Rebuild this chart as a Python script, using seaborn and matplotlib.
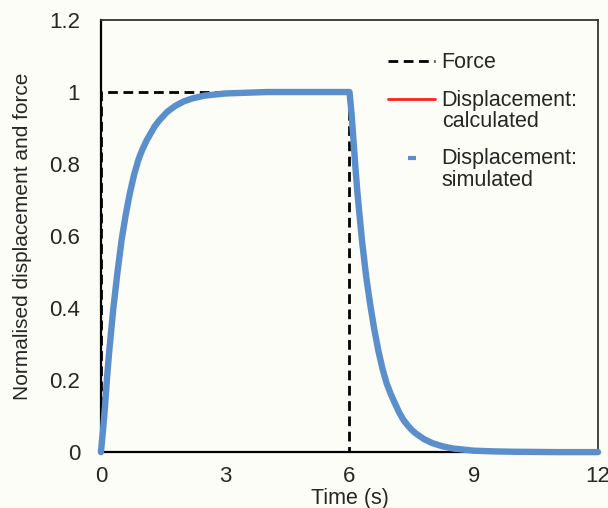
import matplotlib
matplotlib.use("Agg")
import matplotlib.pyplot as plt
from matplotlib.lines import Line2D
from matplotlib.legend_handler import HandlerLine2D
from matplotlib.ticker import MultipleLocator, FuncFormatter
import seaborn as sns
import pandas as pd

# ---- data ----
force_t = [0, 0, 6, 6, 12]
force_v = [0, 1, 1, 0, 0]

calc_t = [0, 0.05, 0.1, 0.15, 0.2, 0.3, 0.4, 0.5, 0.6, 0.7, 0.8, 0.9, 1.0, 1.2, 1.4, 1.6, 1.8, 2.0, 2.5, 3.0, 4.0, 6.0,
          6.05, 6.1, 6.15, 6.2, 6.3, 6.4, 6.5, 6.6, 6.7, 6.8, 6.9, 7.0, 7.2, 7.4, 7.6, 7.8, 8.0, 8.5, 9.0, 10.0, 12.0]
calc_v = [0, 0.088, 0.169, 0.243, 0.310, 0.426, 0.523, 0.604, 0.671, 0.726, 0.773, 0.811, 0.843, 0.892, 0.925, 0.948,
          0.964, 0.975, 0.990, 0.996, 0.999, 1.0,
          0.912, 0.831, 0.757, 0.690, 0.574, 0.477, 0.396, 0.329, 0.274, 0.227, 0.189, 0.157, 0.108, 0.075, 0.052,
          0.036, 0.025, 0.010, 0.004, 0.001, 0.0]

sim_t = [0, 0.05, 0.1, 0.15, 0.2, 0.3, 0.4, 0.45, 0.5, 0.55, 0.6, 0.65, 0.7, 0.75, 0.8, 0.85, 0.9, 0.95, 1.0, 1.1, 1.2,
         1.3, 1.4, 1.6, 1.8, 2.0, 2.2, 2.5, 3.0, 3.5, 4.0, 5.0, 6.0,
         6.05, 6.1, 6.15, 6.2, 6.25, 6.3, 6.35, 6.4, 6.45, 6.5, 6.55, 6.6, 6.7, 6.8, 6.9, 7.0, 7.1, 7.2, 7.3, 7.4,
         7.5, 7.6, 7.8, 8.0, 8.25, 8.5, 9.0, 9.5, 10.0, 11.0, 12.0]
sim_v = [0, 0.06, 0.13, 0.21, 0.28, 0.40, 0.50, 0.545, 0.59, 0.625, 0.66, 0.69, 0.72, 0.745, 0.77, 0.79, 0.81, 0.826,
         0.84, 0.865, 0.885, 0.905, 0.92, 0.945, 0.962, 0.974, 0.982, 0.99, 0.996, 0.998, 1.0, 1.0, 1.0,
         0.94, 0.86, 0.78, 0.71, 0.65, 0.59, 0.54, 0.49, 0.45, 0.41, 0.375, 0.34, 0.28, 0.23, 0.19, 0.16, 0.135,
         0.11, 0.09, 0.075, 0.062, 0.052, 0.036, 0.025, 0.016, 0.01, 0.004, 0.002, 0.001, 0.0, 0.0]

labels = ["Force", "Displacement:\ncalculated", "Displacement:\nsimulated"]
x_ticks = [0, 3, 6, 9, 12]
y_ticks = [0, 0.2, 0.4, 0.6, 0.8, 1.0, 1.2]

BLUE = "#5b8fcb"
RED = "#ff2020"
BG = "#fdfdf8"
FS = 15.5

sns.set_theme(style="white")
plt.rcParams["font.family"] = ["Liberation Sans", "DejaVu Sans"]
plt.rcParams["font.size"] = FS

fig = plt.figure(figsize=(6.08, 5.08), dpi=100, facecolor=BG)
ax = fig.add_axes([0.166, 0.110, 0.8176, 0.8506])
ax.set_facecolor(BG)

df_f = pd.DataFrame({"t": force_t, "v": force_v})
df_c = pd.DataFrame({"t": calc_t, "v": calc_v})
df_s = pd.DataFrame({"t": sim_t, "v": sim_v})

sns.lineplot(data=df_f, x="t", y="v", ax=ax, estimator=None, sort=False,
             color="black", lw=2, linestyle=(0, (3.5, 2)), zorder=2)
sns.lineplot(data=df_c, x="t", y="v", ax=ax, estimator=None, sort=False,
             color=RED, lw=1.8, zorder=3)
sns.lineplot(data=df_s, x="t", y="v", ax=ax, estimator=None, sort=False,
             color=BLUE, lw=4.6, zorder=4, clip_on=False)

ax.set_xlim(0, 12)
ax.set_ylim(0, 1.2)
ax.set_xticks(x_ticks)
ax.set_yticks(y_ticks)
ax.xaxis.set_minor_locator(MultipleLocator(1))
ax.yaxis.set_major_formatter(FuncFormatter(lambda v, p: f"{v:g}"))
ax.tick_params(axis="x", which="major", direction="inout", length=10, width=1.2,
               color="#333333", labelsize=16, pad=5)
ax.tick_params(axis="x", which="minor", direction="in", length=4, width=1, color="#999999")
ax.tick_params(axis="y", which="major", direction="out", length=5, width=1,
               color="#cccccc", labelsize=16, pad=10)

for s in ["left", "bottom"]:
    ax.spines[s].set_color("black")
    ax.spines[s].set_linewidth(1.6)
for s in ["top", "right"]:
    ax.spines[s].set_color("#333333")
    ax.spines[s].set_linewidth(1.3)
    ax.spines[s].set_visible(True)

ax.set_xlabel("Time (s)", fontsize=FS, labelpad=1)
ax.set_ylabel("Normalised displacement and force", fontsize=15, labelpad=12)


class TopHandler(HandlerLine2D):
    """Place the handle level with the first line of a two-line label."""
    def __init__(self, shift, **kw):
        super().__init__(**kw)
        self.shift = shift

    def create_artists(self, legend, orig_handle, xdescent, ydescent,
                       width, height, fontsize, trans):
        return super().create_artists(legend, orig_handle, xdescent,
                                      ydescent - self.shift, width, height,
                                      fontsize, trans)


h_force = Line2D([], [], color="black", lw=2, linestyle=(0, (3.5, 2)))
h_calc = Line2D([], [], color=RED, lw=2)
h_sim = Line2D([], [], color=BLUE, lw=0, marker="_", markersize=6, mew=3)
leg = ax.legend([h_force, h_calc, h_sim], labels, loc="upper left",
                bbox_to_anchor=(0.56, 0.945), frameon=False, fontsize=FS,
                handlelength=2.2, handletextpad=0.3, labelspacing=0.75,
                borderaxespad=0,
                handler_map={h_calc: TopHandler(1.15 * FS),
                             h_sim: TopHandler(1.15 * FS)})
for t in leg.get_texts():
    t.set_linespacing(1.05)

fig.savefig("out.png", dpi=100, facecolor=BG)
